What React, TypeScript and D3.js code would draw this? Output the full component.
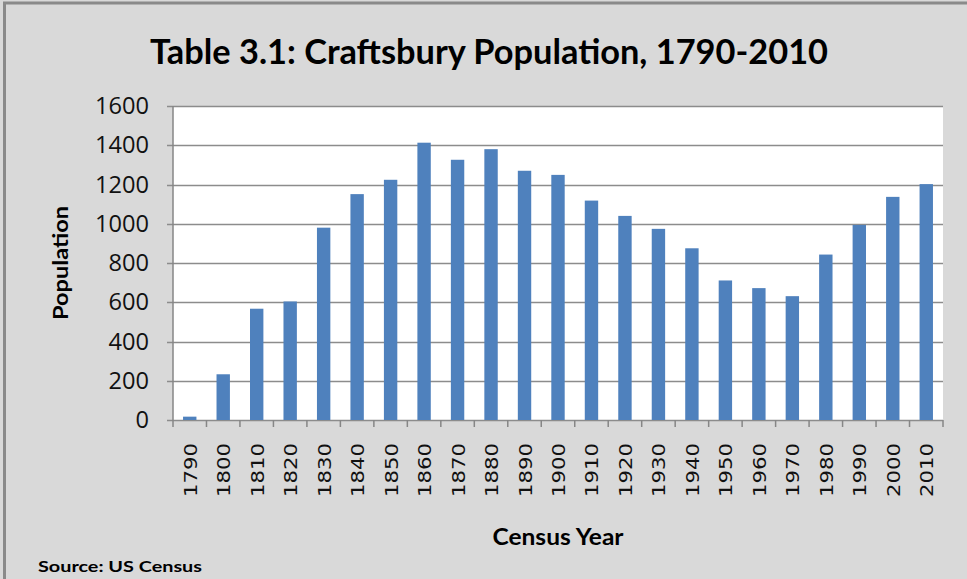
import { useEffect, useRef } from 'react';
import * as d3 from 'd3';

const years = ['1790', '1800', '1810', '1820', '1830', '1840', '1850', '1860', '1870', '1880', '1890', '1900',
  '1910', '1920', '1930', '1940', '1950', '1960', '1970', '1980', '1990', '2000', '2010'];
const population = [17, 233, 567, 604, 980, 1151, 1224, 1413, 1326, 1380, 1270, 1249,
  1118, 1040, 974, 875, 711, 672, 631, 843, 994, 1137, 1202];
const yTicks = [0, 200, 400, 600, 800, 1000, 1200, 1400, 1600];

const App = () => {
  const ref = useRef<SVGSVGElement>(null);

  useEffect(() => {
    const svg = d3.select(ref.current);
    svg.selectAll('*').remove();

    const W = 967, H = 579;
    const margin = { top: 106, right: 24, bottom: 159, left: 173 };
    const width = W - margin.left - margin.right;
    const height = H - margin.top - margin.bottom;
    const font = 'Lato, Calibri, sans-serif';

    // chart area background + border
    svg.append('rect').attr('width', W).attr('height', H).attr('fill', '#d9d9d9');
    svg.append('rect')
      .attr('x', 4.5).attr('y', 3).attr('width', W + 10).attr('height', H + 10)
      .attr('fill', 'none').attr('stroke', '#8a8a8a').attr('stroke-width', 3);

    svg.append('text')
      .attr('x', 489).attr('y', 64)
      .attr('text-anchor', 'middle')
      .attr('font-family', font).attr('font-weight', 'bold').attr('font-size', 34)
      .attr('textLength', 678).attr('lengthAdjust', 'spacingAndGlyphs')
      .attr('fill', '#000')
      .text('Table 3.1: Craftsbury Population, 1790-2010');

    const chart = svg.append('g').attr('transform', `translate(${margin.left},${margin.top})`);

    const x = d3.scaleBand().domain(years).range([0, width]).paddingInner(0.6).paddingOuter(0.3);
    const y = d3.scaleLinear().domain([0, 1600]).range([height, 0]);

    chart.append('rect').attr('width', width).attr('height', height).attr('fill', '#fff');

    chart.selectAll('.grid')
      .data(yTicks)
      .enter()
      .append('line')
      .attr('x1', -6).attr('x2', width)
      .attr('y1', d => Math.round(y(d)) + 0.5).attr('y2', d => Math.round(y(d)) + 0.5)
      .attr('stroke', '#8c8c8c').attr('stroke-width', 1.5);

    chart.selectAll('.bar')
      .data(population)
      .enter()
      .append('rect')
      .attr('x', (d, i) => x(years[i])!)
      .attr('y', d => y(d))
      .attr('width', x.bandwidth())
      .attr('height', d => height - y(d))
      .attr('fill', '#4f81bd');

    // axes lines
    chart.append('line').attr('x1', 0).attr('x2', 0).attr('y1', 0).attr('y2', height)
      .attr('stroke', '#868686').attr('stroke-width', 1.5);
    const step = width / years.length;
    chart.selectAll('.xtick')
      .data(d3.range(years.length + 1))
      .enter()
      .append('line')
      .attr('x1', d => d * step).attr('x2', d => d * step)
      .attr('y1', height).attr('y2', height + 7)
      .attr('stroke', '#868686').attr('stroke-width', 1.5);

    chart.selectAll('.ylabel')
      .data(yTicks)
      .enter()
      .append('text')
      .attr('x', -24).attr('y', d => y(d) + 8)
      .attr('text-anchor', 'end')
      .attr('font-family', '"Open Sans", sans-serif').attr('font-size', 23)
      .attr('fill', '#111')
      .attr('textLength', d => String(d).length * 13.5)
      .attr('lengthAdjust', 'spacingAndGlyphs')
      .text(d => d);

    chart.selectAll('.xlabel')
      .data(years)
      .enter()
      .append('text')
      .attr('transform', d => `translate(${x(d)! + x.bandwidth() / 2 + 7},${height + 23}) rotate(-90)`)
      .attr('text-anchor', 'end')
      .attr('font-family', 'DejaVu Sans, sans-serif').attr('font-size', 17)
      .attr('fill', '#111')
      .attr('textLength', 54).attr('lengthAdjust', 'spacingAndGlyphs')
      .text(d => d);

    svg.append('text')
      .attr('transform', `translate(68,${margin.top + height / 2}) rotate(-90)`)
      .attr('text-anchor', 'middle')
      .attr('font-family', font).attr('font-weight', 'bold').attr('font-size', 21)
      .attr('textLength', 114).attr('lengthAdjust', 'spacingAndGlyphs')
      .text('Population');

    svg.append('text')
      .attr('x', margin.left + width / 2).attr('y', 545)
      .attr('text-anchor', 'middle')
      .attr('font-family', font).attr('font-weight', 'bold').attr('font-size', 22)
      .attr('textLength', 131).attr('lengthAdjust', 'spacingAndGlyphs')
      .text('Census Year');

    svg.append('text')
      .attr('x', 38).attr('y', 572)
      .attr('font-family', font).attr('font-weight', 'bold').attr('font-size', 16)
      .attr('textLength', 164).attr('lengthAdjust', 'spacingAndGlyphs')
      .text('Source: US Census');
  }, []);

  return (
    <svg ref={ref} width={967} height={579} style={{ position: 'absolute', left: 0, top: 0 }} />
  );
};

export default App;
